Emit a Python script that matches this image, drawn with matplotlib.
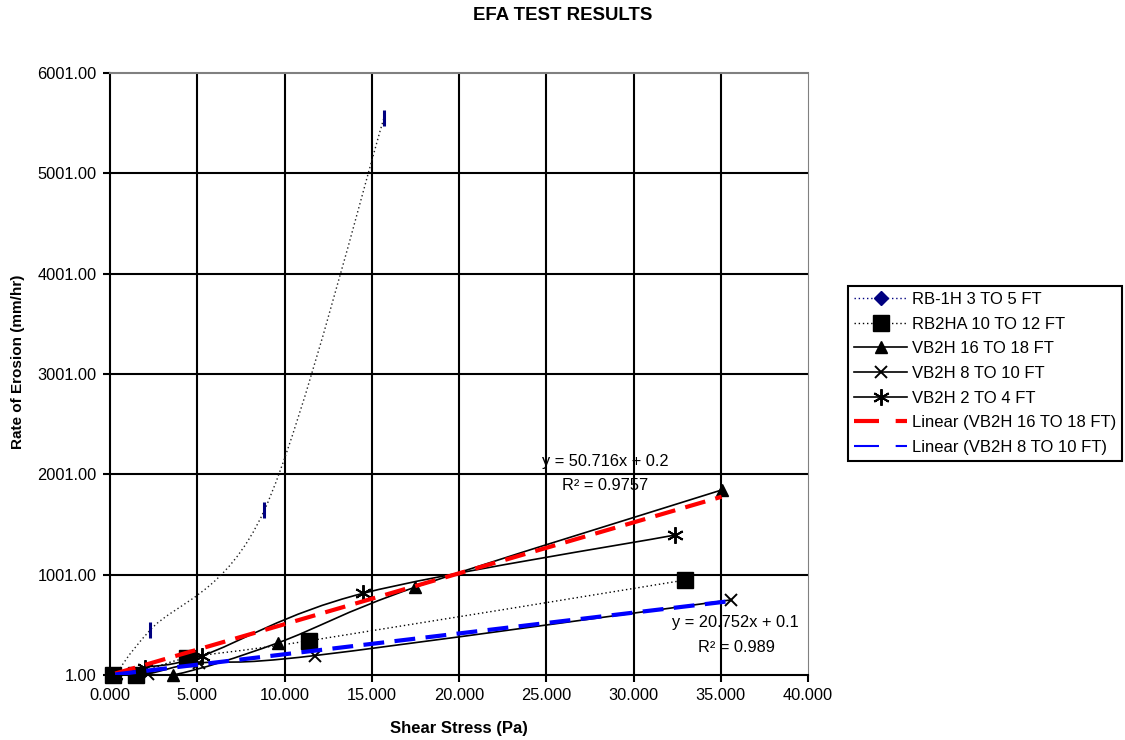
import numpy as np
import matplotlib
matplotlib.use("Agg")
from matplotlib import pyplot as plt
from matplotlib.path import Path
from matplotlib.patches import PathPatch
from matplotlib.lines import Line2D

plt.rcParams['font.family'] = ['Liberation Sans', 'DejaVu Sans']

# values
rb1h_x = [0.3, 2.3, 8.85, 15.7]
rb1h_y = [1, 449, 1645, 5553]

rb2ha_x = [0.2, 1.5, 4.4, 11.4, 32.95]
rb2ha_y = [1, 1, 170, 342, 947]

vb16_x = [0.3, 3.6, 9.6, 17.5, 35.05]
vb16_y = [1, 1, 320, 877, 1845]

vb8_x = [0.3, 2.2, 5.1, 11.75, 35.6]
vb8_y = [1, 15, 120, 195, 750]

vb2_x = [0.3, 2.0, 5.3, 14.5, 32.35]
vb2_y = [1, 75, 195, 815, 1395]

trend16_slope, trend16_icpt, trend16_r2 = 50.716, 0.2, 0.9757
trend8_slope, trend8_icpt, trend8_r2 = 20.752, 0.1, 0.989

labels = ["RB-1H 3 TO 5 FT", "RB2HA 10 TO 12 FT", "VB2H 16 TO 18 FT",
          "VB2H 8 TO 10 FT", "VB2H 2 TO 4 FT",
          "Linear (VB2H 16 TO 18 FT)", "Linear (VB2H 8 TO 10 FT)"]

xticks = np.arange(0, 41, 5)
yticks = np.arange(1, 6002, 1000)


def smooth_path(x, y):
    # excel style smoothed line, bezier through the data points
    pts = np.column_stack([x, y]).astype(float)
    n = len(pts)
    verts = [pts[0]]
    codes = [Path.MOVETO]
    for i in range(n - 1):
        p0 = pts[i - 1] if i > 0 else pts[i]
        p1 = pts[i]
        p2 = pts[i + 1]
        p3 = pts[i + 2] if i + 2 < n else pts[i + 1]
        verts += [p1 + (p2 - p0) / 6, p2 - (p3 - p1) / 6, p2]
        codes += [Path.CURVE4] * 3
    return Path(verts, codes)


fig = plt.figure(figsize=(11.25, 7.4), dpi=100)
ax = fig.add_axes([110 / 1125, 1 - 675 / 740, 698 / 1125, 602 / 740])
ax.set_xlim(0, 40)
ax.set_ylim(1, 6001)

for v in xticks[1:-1]:
    ax.axvline(v, color='black', lw=1.5, zorder=1)
for v in yticks[1:-1]:
    ax.axhline(v, color='black', lw=1.5, zorder=1)

dot = (0, (1, 2))
series = [
    (rb1h_x, rb1h_y, dict(ls=dot, color='#202020', lw=1.0),
     dict(marker='|', ms=11, mew=2.2, color='#000080')),
    (rb2ha_x, rb2ha_y, dict(ls=dot, color='black', lw=1.0),
     dict(marker='s', ms=11, color='black')),
    (vb16_x, vb16_y, dict(ls='-', color='black', lw=1.2),
     dict(marker='^', ms=9, color='black')),
    (vb8_x, vb8_y, dict(ls='-', color='black', lw=1.2),
     dict(marker='x', ms=9, mew=1.4, color='black')),
    (vb2_x, vb2_y, dict(ls='-', color='black', lw=1.2),
     dict(marker=(6, 2, 0), ms=12, mew=1.4, color='black')),
]
for x, y, lstyle, mstyle in series:
    ax.add_patch(PathPatch(smooth_path(x, y), fill=False, ec=lstyle['color'],
                           lw=lstyle['lw'], ls=lstyle['ls'], zorder=2))
    ax.plot(x, y, ls='none', clip_on=False, zorder=3, **mstyle)

tx = np.array([min(vb16_x), max(vb16_x)])
ax.plot(tx, trend16_slope * tx + trend16_icpt, color='#FF0000', lw=3,
        dashes=(5, 2.5), zorder=4)
tx = np.array([min(vb8_x), max(vb8_x)])
ax.plot(tx, trend8_slope * tx + trend8_icpt, color='#0000FF', lw=3,
        dashes=(5, 2.5), zorder=4)

fs = 11.8
ax.text(24.76, 2124, f"y = {trend16_slope}x + {trend16_icpt}", fontsize=fs, va='center')
ax.text(25.9, 1894, f"R² = {trend16_r2}", fontsize=fs, va='center')
ax.text(32.2, 528, f"y = {trend8_slope}x + {trend8_icpt}", fontsize=fs, va='center')
ax.text(33.7, 279, f"R² = {trend8_r2}", fontsize=fs, va='center')

ax.set_xticks(xticks)
ax.set_xticklabels([f"{v:.3f}" for v in xticks])
ax.set_yticks(yticks)
ax.set_yticklabels([f"{v:.2f}" for v in yticks])
ax.tick_params(axis='both', labelsize=fs, length=5, width=1.5, direction='out')
ax.tick_params(axis='y', pad=4.5)
ax.tick_params(axis='x', pad=4)
ax.tick_params(top=False, right=False)

ax.spines['left'].set_linewidth(1.5)
ax.spines['bottom'].set_linewidth(1.5)
ax.spines['top'].set_color('#808080')
ax.spines['top'].set_linewidth(1.5)
ax.spines['right'].set_color('#808080')
ax.spines['right'].set_linewidth(0.8)

ax.set_xlabel("Shear Stress (Pa)", fontsize=12, fontweight='bold', va='center')
ax.xaxis.set_label_coords(0.5, -(728 - 675) / 602)
ax.set_ylabel("Rate of Erosion (mm/hr)", fontsize=11, fontweight='bold', va='center')
ax.yaxis.set_label_coords(-(110 - 18) / 698, (675 - 362) / 602)

fig.text(0.5, 1 - 15 / 740, "EFA TEST RESULTS", ha='center', va='center',
         fontsize=13.4, fontweight='bold')

handles = [
    Line2D([], [], ls=dot, color='#000080', lw=1.0, marker='D', ms=7),
    Line2D([], [], ls=dot, color='black', lw=1.0, marker='s', ms=11),
    Line2D([], [], ls='-', color='black', lw=1.2, marker='^', ms=9),
    Line2D([], [], ls='-', color='black', lw=1.2, marker='x', ms=9, mew=1.4),
    Line2D([], [], ls='-', color='black', lw=1.2, marker=(6, 2, 0), ms=12, mew=1.4),
    Line2D([], [], color='#FF0000', lw=3, dashes=(6, 4)),
    Line2D([], [], color='#0000FF', lw=1.5, dashes=(12, 8)),
]
leg = fig.legend(handles, labels, loc='upper left',
                 bbox_to_anchor=(848 / 1125, 1 - 286 / 740), fontsize=12,
                 frameon=True, fancybox=False, edgecolor='black', framealpha=1,
                 borderpad=0.35, labelspacing=0.58, handlelength=3.2,
                 handletextpad=0.3, borderaxespad=0)
leg.get_frame().set_linewidth(1.5)

fig.savefig("out.png", dpi=100)
